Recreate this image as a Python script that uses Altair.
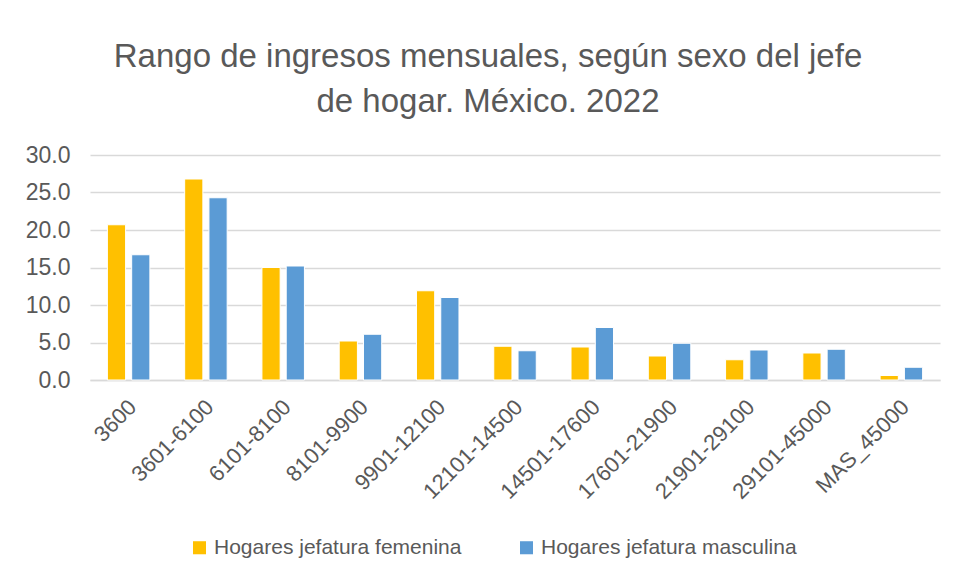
import altair as alt
import pandas as pd

categories = ["3600", "3601-6100", "6101-8100", "8101-9900", "9901-12100",
              "12101-14500", "14501-17600", "17601-21900", "21901-29100",
              "29101-45000", "MAS_45000"]
femenina = [20.7, 26.8, 15.0, 5.2, 11.9, 4.5, 4.4, 3.2, 2.7, 3.6, 0.6]
masculina = [16.7, 24.3, 15.2, 6.1, 11.0, 3.9, 7.0, 4.9, 4.0, 4.1, 1.7]
series = ["Hogares jefatura femenina", "Hogares jefatura masculina"]
colors = ["#FFC000", "#5B9BD5"]

rows = []
for i, c in enumerate(categories):
    rows.append({"rango": c, "serie": series[0], "valor": femenina[i], "orden": 0})
    rows.append({"rango": c, "serie": series[1], "valor": masculina[i], "orden": 1})
df = pd.DataFrame(rows)

FONT = "Liberation Sans"
GREY = "#595959"

chart = alt.Chart(df).mark_bar(stroke="white", strokeWidth=1).encode(
    x=alt.X("rango:N", sort=categories, title=None,
            scale=alt.Scale(paddingInner=0.45, paddingOuter=0.225),
            axis=alt.Axis(labelAngle=-45, labelFontSize=22, labelColor=GREY,
                          labelFont=FONT, ticks=False, domain=True,
                          domainColor="#D9D9D9", domainWidth=1.5,
                          labelPadding=16, labelOffset=-3)),
    xOffset=alt.XOffset("serie:N", sort=series,
                        scale=alt.Scale(paddingInner=0.25)),
    y=alt.Y("valor:Q", title=None,
            scale=alt.Scale(domain=[0, 30]),
            axis=alt.Axis(values=[0, 5, 10, 15, 20, 25, 30], format=".1f",
                          labelFontSize=23, labelColor=GREY, labelFont=FONT,
                          ticks=False, domain=False, gridColor="#D9D9D9",
                          gridWidth=1.5, labelPadding=20)),
    color=alt.Color("serie:N", sort=series, title=None,
                    scale=alt.Scale(domain=series, range=colors),
                    legend=alt.Legend(orient="none", legendX=99, legendY=382,
                                      direction="horizontal", symbolType="square",
                                      symbolSize=170, symbolStrokeWidth=0,
                                      labelFontSize=21, labelColor=GREY,
                                      labelFont=FONT, columnPadding=54,
                                      labelLimit=400)),
).properties(
    width=850,
    height=225,
    title=alt.TitleParams(
        text=["Rango de ingresos mensuales, según sexo del jefe", "de hogar. México. 2022"],
        fontSize=33, font=FONT, color=GREY, fontWeight="normal",
        lineHeight=45, anchor="middle", offset=25, dx=-27),
    autosize=alt.AutoSizeParams(type="none"),
    padding={"left": 82, "top": 147, "right": 8, "bottom": 193},
).configure_view(stroke=None)

chart.save("out.html", embed_options={"renderer": "svg", "actions": False})
